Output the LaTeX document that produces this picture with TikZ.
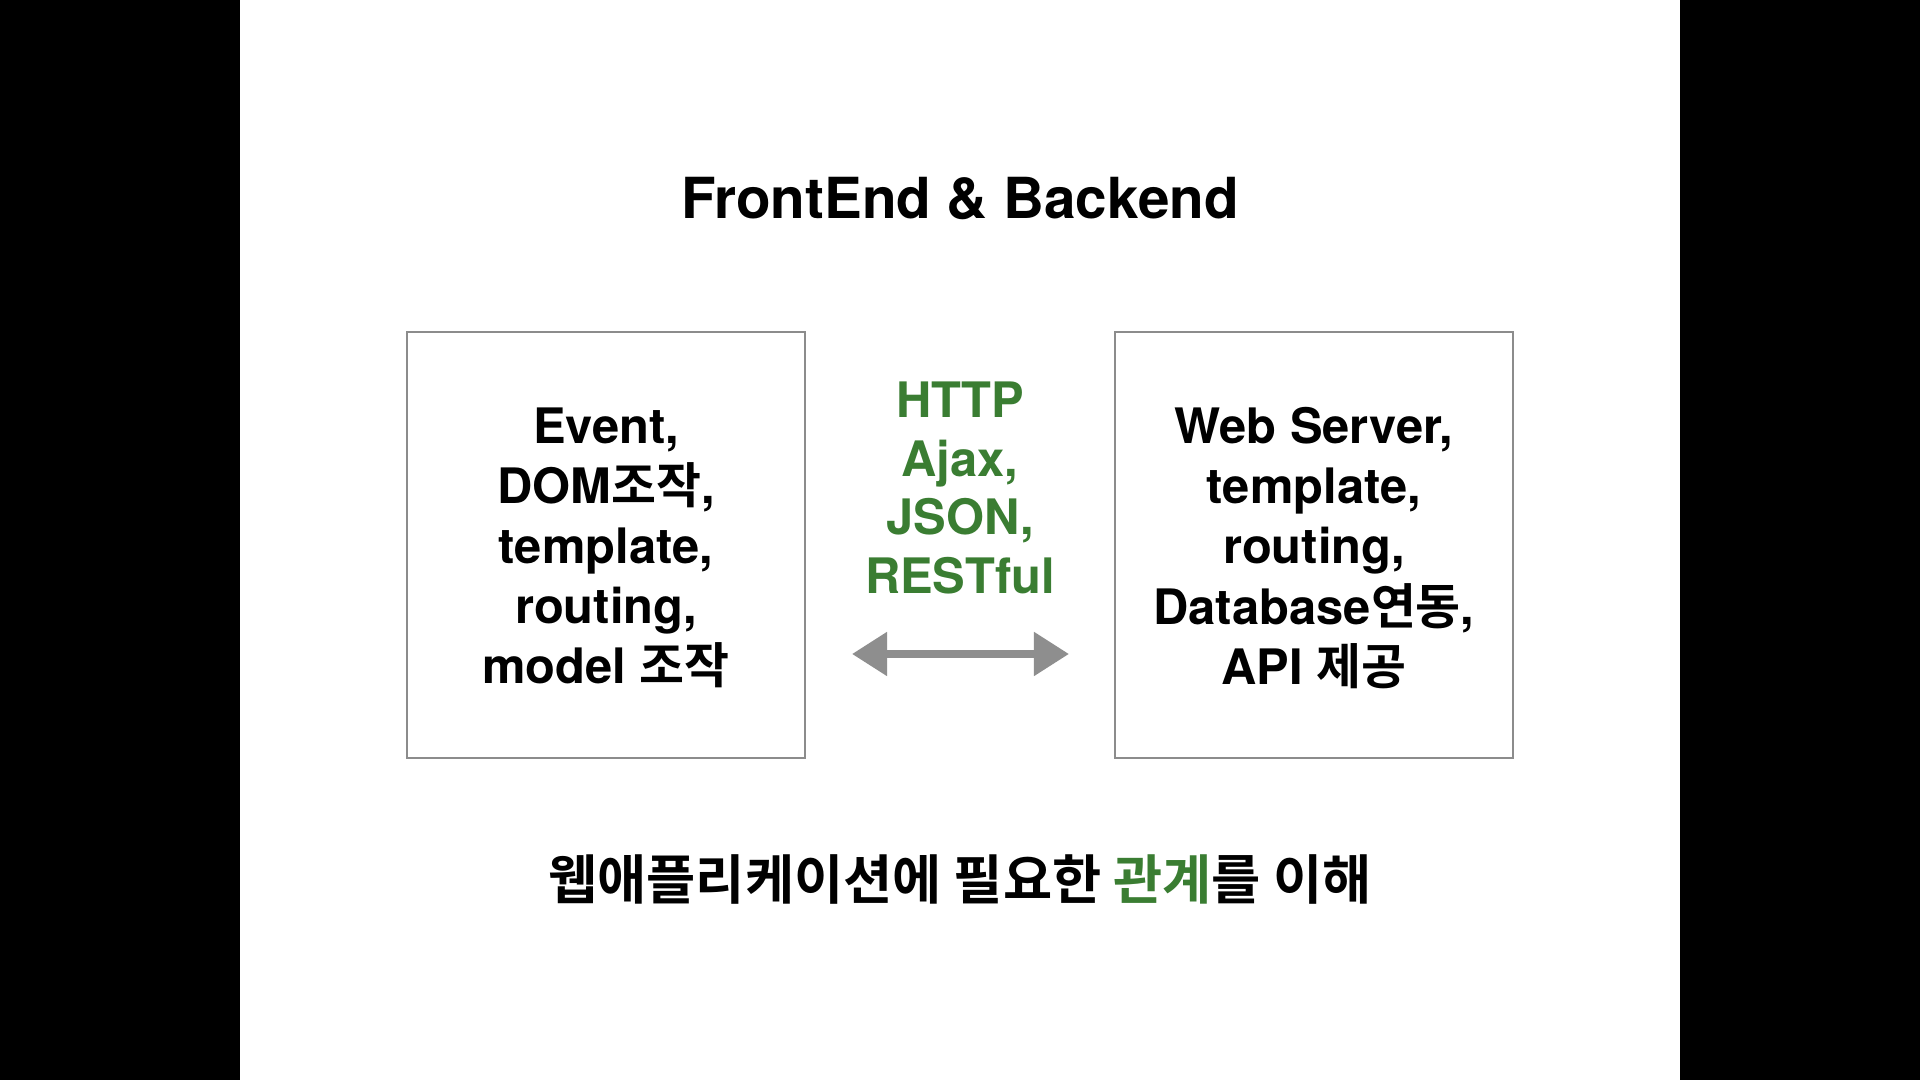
\documentclass[tikz,border=0pt]{standalone}
\usepackage{fontspec}
\setmainfont{TeX Gyre Heros}
\newfontfamily\kofont{Noto Sans CJK KR}[BoldFont={* Bold}]
\usetikzlibrary{arrows.meta,positioning}
\definecolor{protgreen}{HTML}{3A7D32}
\definecolor{boxgray}{HTML}{8C8C8C}
\definecolor{arrowgray}{HTML}{8E8E8E}
\begin{document}
\begin{tikzpicture}[x=0.01cm,y=-0.01cm,
	every node/.style={align=center,inner sep=0pt},
	part/.style={draw=boxgray,line width=0.6pt,minimum width=3.97cm,minimum height=4.26cm},
	parttext/.style={font=\fontsize{13.9}{17.1}\selectfont\bfseries},
	protocol/.style={text=protgreen,font=\fontsize{13.9}{16.7}\selectfont\bfseries},
	link/.style={{Triangle[length=0.35cm,width=0.42cm]}-{Triangle[length=0.35cm,width=0.42cm]},
		draw=arrowgray,line width=0.08cm}]
	% slide on black
	\fill[black] (0,0) rectangle (1920,1080);
	\fill[white] (240,0) rectangle (1680,1080);
	\node[font=\fontsize{16.1}{19}\selectfont\bfseries] (title) at (960,199) {FrontEnd \& Backend};
	\node[part] (front) at (606,545) {};
	\node[part] (back) at (1314,545) {};
	\node[parttext] (frontText) at ([yshift=-0.03cm]front.center)
		{Event,\\ DOM{\kofont 조작},\\ template,\\ routing,\\ model {\kofont 조작}};
	\node[parttext] (backText) at ([yshift=-0.03cm]back.center)
		{Web Server,\\ template,\\ routing,\\ Database{\kofont 연동},\\ API {\kofont 제공}};
	\node[protocol] (proto) at (960,488) {HTTP\\ Ajax,\\ JSON,\\ RESTful};
	\coordinate (linkL) at (852,654);
	\coordinate (linkR) at (1069,654);
	\draw[link] (linkL) -- (linkR);
	\node[font=\fontsize{15.2}{18}\selectfont\kofont\bfseries] (goal) at (960,879)
		{웹애플리케이션에 필요한 {\color{protgreen}관계}를 이해};
\end{tikzpicture}
\end{document}
